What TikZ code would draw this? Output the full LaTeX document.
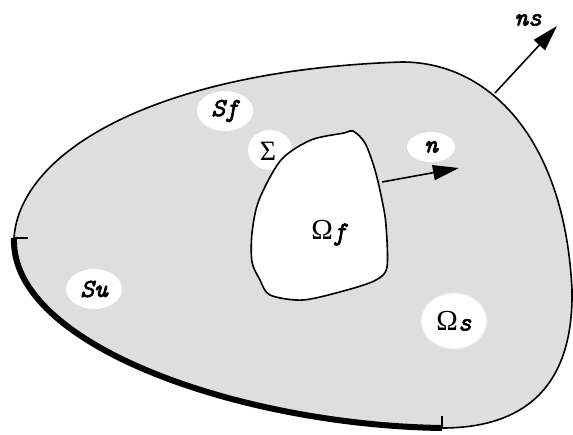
\documentclass[tikz,border=0pt]{standalone}
\usepackage{fontspec}
\setmainfont{Liberation Serif}
\newfontfamily\courfont{Latin Modern Mono}[FakeBold=2.6]
\usetikzlibrary{arrows.meta,shapes.geometric}

\definecolor{solidgray}{gray}{0.87}

\tikzset{
  outline/.style={line width=1.6pt},
  bubble/.style={ellipse, fill=white, inner sep=0pt, minimum width=56pt, minimum height=40pt},
  lbl/.style={font=\fontsize{26}{26}\selectfont\courfont\itshape},
  normal/.style={line width=1.6pt, -{Triangle[length=26pt,width=15pt]}},
}
\newcommand{\bigomega}{{\rmfamily\upshape\fontsize{29}{29}\selectfont Ω}}

\begin{document}
\begin{tikzpicture}[x=1pt,y=-1pt]
  \useasboundingbox (0,0) rectangle (573,434);

  % ends of the pieces of the outer boundary
  \coordinate (left) at (14,238);
  \coordinate (top) at (402,62);
  \coordinate (right) at (572,290);
  \coordinate (bottom) at (442,428);

  % the solid
  \draw[outline, fill=solidgray] (left) .. controls (20,150) and (160,70) .. (top)
    .. controls (490,62) and (565,140) .. (right)
    .. controls (574,400) and (510,428) .. (bottom)
    .. controls (240,425) and (10,345) .. (left) -- cycle;

  % clamped part Su
  \draw[line width=6pt] (bottom) .. controls (240,425) and (10,345) .. (left);
  \draw[outline] (left) -- ++(14,0);
  \draw[outline] (bottom) -- ++(0,-12);

  % white spots behind the labels
  \node[bubble] (sf) at (225,111) {};
  \node[bubble, minimum width=44pt] (sigma) at (270,150) {};
  \node[bubble, minimum width=48pt, minimum height=30pt] (n) at (431,147) {};
  \node[bubble] (su) at (94,289) {};
  \node[bubble, minimum width=66pt, minimum height=56pt, draw=black!8, line width=1.2pt] (os) at (454,321) {};

  % the fluid hole
  \draw[outline, fill=white] plot[smooth cycle, tension=0.5] coordinates {
    (353,131) (365,143) (375,170) (382,200) (386,225) (387,267) (376,280)
    (347,290) (303,300) (270,295) (260,280) (252,262) (252,233) (259,200)
    (281,160) (311,140) (344,133)};

  % normals
  \coordinate (nfoot) at (382,182);
  \coordinate (ntip) at (459,168);
  \coordinate (nsfoot) at (495,93);
  \coordinate (nstip) at (557,26);
  \draw[normal] (nfoot) -- (ntip);
  \draw[normal] (nsfoot) -- (nstip);

  % labels
  \node[lbl] at (sf) {Sf};
  \node[font=\fontsize{28}{28}\selectfont] at (268,151) {Σ};
  \node[lbl] at (n) {n};
  \node[lbl] at (su) {Su};
  \node[lbl] at (os) {\bigomega s};
  \node[lbl] (of) at (329,233) {\bigomega f};
  \node[lbl] (ns) at (528,20) {ns};
\end{tikzpicture}
\end{document}
